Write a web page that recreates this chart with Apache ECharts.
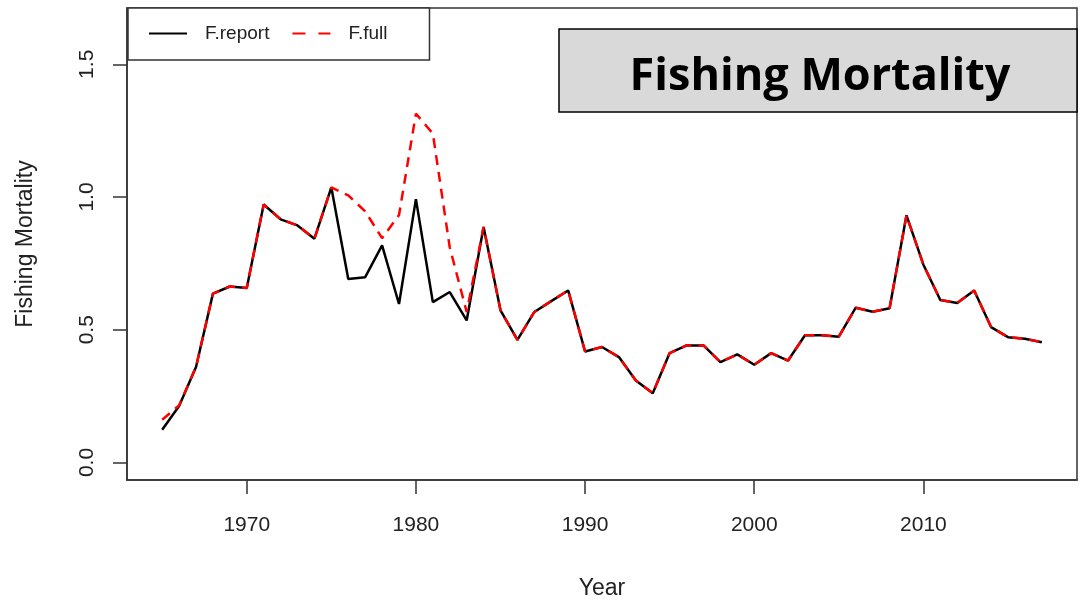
<!DOCTYPE html>
<html>
<head>
<meta charset="utf-8">
<title>Fishing Mortality</title>
<script src="https://cdn.jsdelivr.net/npm/echarts@6/dist/echarts.min.js"></script>
<style>
  html, body { margin: 0; padding: 0; background: #fff; }
  #chart { width: 1080px; height: 600px; }
</style>
</head>
<body>
<div id="chart"></div>
<script>
// Annual fishing mortality estimates
const years = [
  1965, 1966, 1967, 1968, 1969, 1970, 1971, 1972, 1973, 1974,
  1975, 1976, 1977, 1978, 1979, 1980, 1981, 1982, 1983, 1984,
  1985, 1986, 1987, 1988, 1989, 1990, 1991, 1992, 1993, 1994,
  1995, 1996, 1997, 1998, 1999, 2000, 2001, 2002, 2003, 2004,
  2005, 2006, 2007, 2008, 2009, 2010, 2011, 2012, 2013, 2014,
  2015, 2016, 2017
];
const fReport = [
  0.123, 0.213, 0.360, 0.636, 0.663, 0.657, 0.972, 0.916, 0.893, 0.843,
  1.036, 0.691, 0.698, 0.818, 0.597, 0.992, 0.604, 0.642, 0.535, 0.887,
  0.573, 0.462, 0.567, 0.608, 0.648, 0.418, 0.435, 0.397, 0.309, 0.261,
  0.412, 0.441, 0.441, 0.378, 0.407, 0.368, 0.412, 0.384, 0.479, 0.479,
  0.474, 0.583, 0.568, 0.581, 0.931, 0.745, 0.612, 0.601, 0.648, 0.510,
  0.472, 0.466, 0.453
];
const fFull = [
  0.161, 0.215, 0.360, 0.636, 0.663, 0.657, 0.972, 0.916, 0.893, 0.843,
  1.036, 1.006, 0.946, 0.845, 0.932, 1.314, 1.239, 0.810, 0.567, 0.887,
  0.573, 0.462, 0.567, 0.608, 0.648, 0.418, 0.435, 0.397, 0.309, 0.261,
  0.412, 0.441, 0.441, 0.378, 0.407, 0.368, 0.412, 0.384, 0.479, 0.479,
  0.474, 0.583, 0.568, 0.581, 0.931, 0.745, 0.612, 0.601, 0.648, 0.510,
  0.472, 0.466, 0.453
];
const xTicks = [1970, 1980, 1990, 2000, 2010];
const yTicks = [0, 0.5, 1.0, 1.5];

const pairs = (vals) => years.map((y, i) => [y, vals[i]]);
const axisColor = '#333';
const textColor = '#222';
const baseFont = '"Liberation Sans", Arial, sans-serif';

const chart = echarts.init(document.getElementById('chart'), null, { renderer: 'canvas' });

chart.setOption({
  animation: false,
  backgroundColor: '#ffffff',
  title: {
    text: 'Fishing Mortality',
    left: 815,
    top: 50,
    textAlign: 'center',
    textStyle: {
      fontFamily: '"Open Sans", "Noto Sans", sans-serif',
      fontWeight: 'bold',
      fontSize: 45,
      color: '#000'
    },
    z: 10
  },
  graphic: [{
    type: 'rect',
    shape: { x: 559, y: 29, width: 518, height: 83 },
    style: { fill: '#d9d9d9', stroke: '#000', lineWidth: 1.5 },
    z: 5
  }],
  legend: {
    left: 128,
    top: 8,
    orient: 'horizontal',
    padding: [16, 42, 17, 20],
    itemWidth: 38,
    itemHeight: 14,
    itemGap: 22,
    borderColor: axisColor,
    borderWidth: 1.5,
    backgroundColor: '#fff',
    itemStyle: { opacity: 0, borderWidth: 0 },
    textStyle: {
      fontFamily: baseFont,
      fontSize: 19,
      color: textColor,
      padding: [0, 0, 0, 13]
    },
    data: [
      { name: 'F.report' },
      { name: 'F.full', lineStyle: { type: [13, 13] } }
    ]
  },
  grid: {
    left: 127,
    right: 3,
    top: 8,
    bottom: 120,
    outerBoundsMode: 'none',
    containLabel: false,
    show: true,
    borderColor: axisColor,
    borderWidth: 1.5
  },
  xAxis: {
    type: 'value',
    min: 1962.92,
    max: 2019.08,
    name: 'Year',
    nameLocation: 'middle',
    nameGap: 97,
    nameTextStyle: { fontFamily: baseFont, fontSize: 23, color: textColor },
    axisLine: { show: true, onZero: false, lineStyle: { color: axisColor, width: 1.5 } },
    axisTick: { show: true, customValues: xTicks, length: 14, lineStyle: { color: axisColor, width: 1.5 } },
    axisLabel: {
      customValues: xTicks,
      margin: 35,
      fontFamily: baseFont,
      fontSize: 21,
      color: textColor,
      formatter: (v) => String(v)
    },
    splitLine: { show: false }
  },
  yAxis: {
    type: 'value',
    min: -0.066,
    max: 1.712,
    name: 'Fishing Mortality',
    nameLocation: 'middle',
    nameRotate: 90,
    nameGap: 90,
    nameTextStyle: { fontFamily: baseFont, fontSize: 23, color: textColor },
    axisLine: { show: true, onZero: false, lineStyle: { color: axisColor, width: 1.5 } },
    axisTick: { show: true, customValues: yTicks, length: 14, lineStyle: { color: axisColor, width: 1.5 } },
    axisLabel: {
      customValues: yTicks,
      rotate: 90,
      margin: 29,
      fontFamily: baseFont,
      fontSize: 21,
      color: textColor,
      formatter: (v) => v.toFixed(1)
    },
    splitLine: { show: false }
  },
  series: [
    {
      name: 'F.report',
      type: 'line',
      data: pairs(fReport),
      symbol: 'none',
      lineStyle: { color: '#000', width: 2.5, type: 'solid' },
      itemStyle: { color: '#000' },
      z: 2
    },
    {
      name: 'F.full',
      type: 'line',
      data: pairs(fFull),
      symbol: 'none',
      lineStyle: { color: '#ff0000', width: 2.5, type: [10, 7] },
      itemStyle: { color: '#ff0000' },
      z: 3
    }
  ]
});
</script>
</body>
</html>
